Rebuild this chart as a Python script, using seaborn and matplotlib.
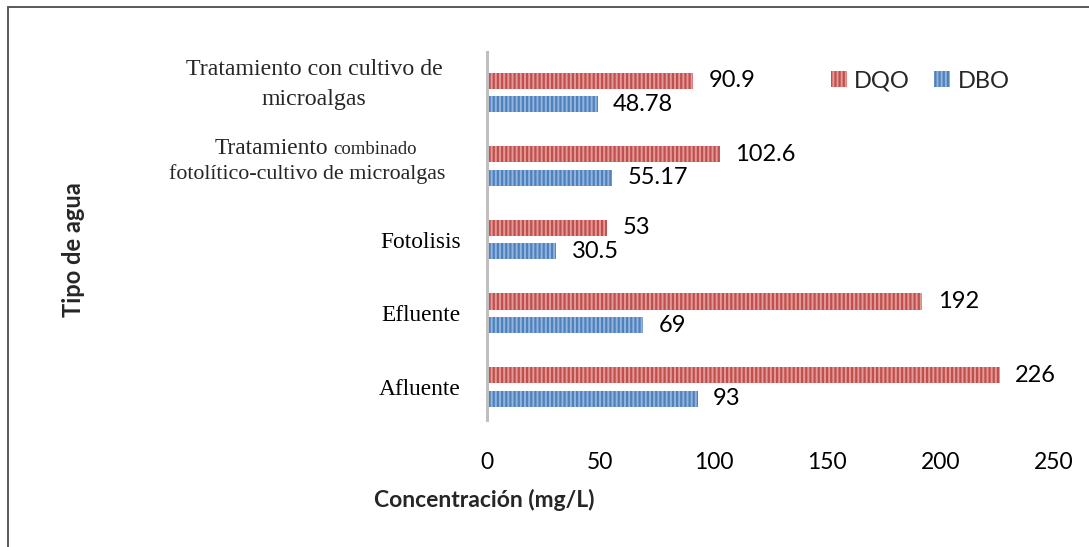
import matplotlib
matplotlib.use("Agg")
import matplotlib.pyplot as plt
import seaborn as sns
import pandas as pd
from matplotlib.lines import Line2D

# Data
categories = [
    "Tratamiento con cultivo de\nmicroalgas",
    "Tratamiento combinado\nfotolítico-cultivo de microalgas",
    "Fotolisis",
    "Efluente",
    "Afluente",
]
series = ["DQO", "DBO"]
dqo = [90.9, 102.6, 53, 192, 226]
dbo = [48.78, 55.17, 30.5, 69, 93]
x_ticks = [0, 50, 100, 150, 200, 250]

df = pd.DataFrame({
    "Tipo de agua": categories * 2,
    "Parámetro": ["DQO"] * len(categories) + ["DBO"] * len(categories),
    "Concentración": dqo + dbo,
})

light = {"DQO": "#E39A98", "DBO": "#93B4DD"}
dark = {"DQO": "#C0504D", "DBO": "#4F81BD"}

sns.set_theme(style="white")
plt.rcParams["font.family"] = ["Lato", "DejaVu Sans"]
plt.rcParams["hatch.linewidth"] = 1.6

fig = plt.figure(figsize=(10.89, 5.47), dpi=100)
W, H = 1089, 547
ax = fig.add_axes([487 / W, 127 / H, 567 / W, 368 / H])

sns.barplot(
    data=df, y="Tipo de agua", x="Concentración", hue="Parámetro",
    order=categories, hue_order=series, palette=light, saturation=1,
    width=0.64, gap=0.32, orient="h", legend=False, ax=ax,
)

# Striped fill for each series
for name, cont in zip(series, ax.containers):
    for bar in cont:
        bar.set_edgecolor(dark[name])
        bar.set_hatch("||||")
        bar.set_linewidth(0)
    ax.bar_label(cont, fmt="{:g}", padding=11, fontsize=17, color="black")

ax.set_xlim(0, 250)
ax.set_ylim(4.45, -0.55)
ax.set_xticks(x_ticks)
ax.set_xticklabels([str(t) for t in x_ticks], fontsize=16.5)
ax.tick_params(axis="x", length=0, pad=23, colors="black")
ax.tick_params(axis="y", length=0, pad=19)

# Category labels (serif); the two long ones are composed line by line
ax.set_yticks(range(len(categories)))
ax.set_yticklabels(
    ["" if "\n" in c else c for c in categories],
    fontfamily="Liberation Serif", fontsize=16.8, color="black",
)
ytr = ax.get_yaxis_transform()
serif = "Liberation Serif"
l1a, l1b = categories[0].split("\n")
ax.annotate(l1a, xy=(0, 0), xycoords=ytr, xytext=(-173, 17), textcoords="offset pixels",
            ha="center", va="baseline", fontfamily=serif, fontsize=17.2)
ax.annotate(l1b, xy=(0, 0), xycoords=ytr, xytext=(-173, -13), textcoords="offset pixels",
            ha="center", va="baseline", fontfamily=serif, fontsize=17.2)
l2a, l2b = categories[1].split("\n")
w1, w2 = l2a.split(" ", 1)
ax.annotate(w1, xy=(0, 1), xycoords=ytr, xytext=(-159, 12), textcoords="offset pixels",
            ha="right", va="baseline", fontfamily=serif, fontsize=16.8)
ax.annotate(w2, xy=(0, 1), xycoords=ytr, xytext=(-154, 12), textcoords="offset pixels",
            ha="left", va="baseline", fontfamily=serif, fontsize=13.5)
ax.annotate(l2b, xy=(0, 1), xycoords=ytr, xytext=(-42, -13), textcoords="offset pixels",
            ha="right", va="baseline", fontfamily=serif, fontsize=15.8)

# Axis titles
ax.set_xlabel("Concentración (mg/L)", fontsize=16.5, fontweight="bold", va="center")
ax.xaxis.set_label_coords(-0.004, -0.217)
ax.set_ylabel("Tipo de agua", fontsize=17, fontweight="bold", va="center")
ax.yaxis.set_label_coords(-0.729, 0.462)

# Spines: only the vertical axis line
for side in ["top", "right", "bottom"]:
    ax.spines[side].set_visible(False)
ax.spines["left"].set_color("#BFBFBF")
ax.spines["left"].set_linewidth(2.2)

# Legend
ax.legend(
    ax.containers, series, ncol=2, frameon=False, fontsize=17,
    handlelength=0.68, handleheight=0.68, handletextpad=0.3, columnspacing=1.05,
    loc="center", bbox_to_anchor=(920 / W, 1 - 81 / H), bbox_transform=fig.transFigure,
)

# Chart frame (top and left edges)
fig.add_artist(Line2D([8 / W, 8 / W], [0, 1 - 7 / H], transform=fig.transFigure,
                      color="#595959", linewidth=1.4))
fig.add_artist(Line2D([8 / W, 1], [1 - 7 / H, 1 - 7 / H], transform=fig.transFigure,
                      color="#595959", linewidth=1.4))

fig.savefig("out.png", dpi=100, facecolor="white")
